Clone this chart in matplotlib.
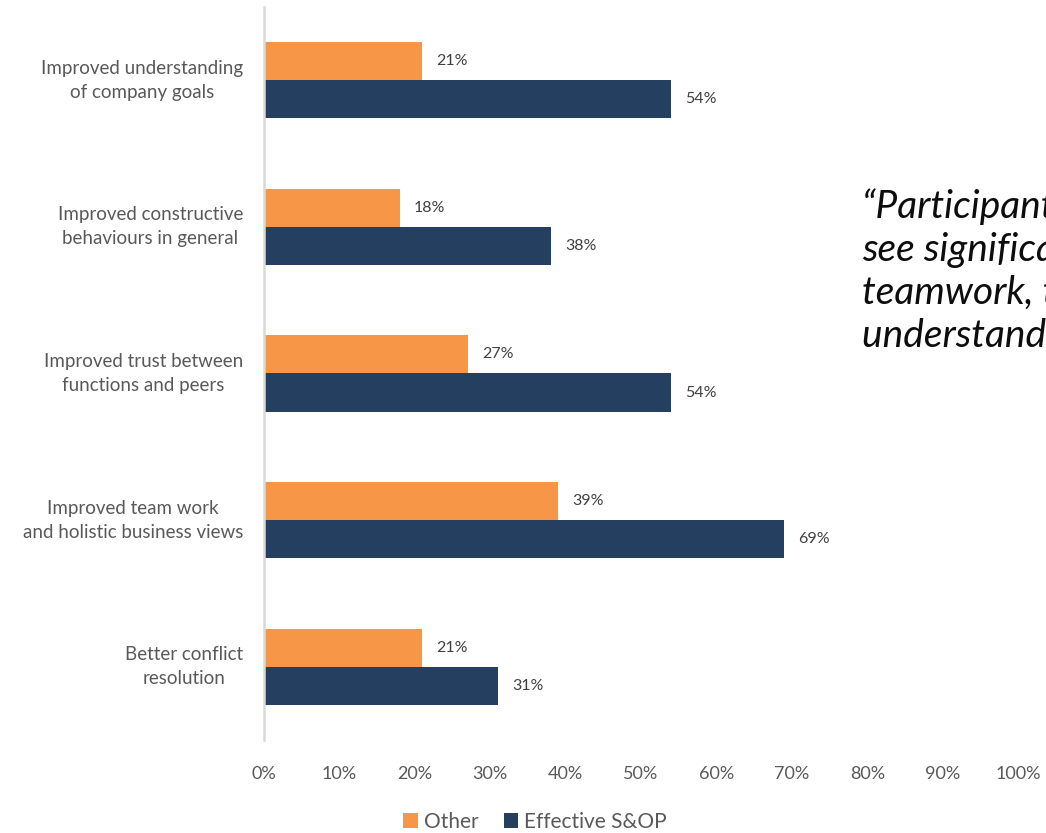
import matplotlib
matplotlib.use("Agg")
import matplotlib.pyplot as plt
from matplotlib.patches import Patch
import numpy as np

plt.rcParams['font.family'] = ['Lato', 'DejaVu Sans']

categories = [
    "Improved understanding\nof company goals",
    "Improved constructive\nbehaviours in general",
    "Improved trust between\nfunctions and peers",
    "Improved team work\nand holistic business views",
    "Better conflict\nresolution",
]
other = [21, 18, 27, 39, 21]
effective = [54, 38, 54, 69, 31]
xticks = [0, 10, 20, 30, 40, 50, 60, 70, 80, 90, 100]
series_names = ["Other", "Effective S&OP"]

ORANGE = "#f79646"
NAVY = "#243f60"
GREY_TXT = "#595959"
LABEL_TXT = "#404040"

W, H = 1046, 833
fig = plt.figure(figsize=(W / 100, H / 100), dpi=100)
ax = fig.add_axes([264 / W, (H - 740) / H, (1018 - 264) / W, (740 - 7) / H])

y = np.arange(len(categories))
bh = 0.26
ax.barh(y - bh / 2, other, height=bh, color=ORANGE)
ax.barh(y + bh / 2, effective, height=bh, color=NAVY)

for yi, v in zip(y - bh / 2, other):
    ax.text(v + 1.9, yi, f"{v}%", va="center", ha="left", fontsize=11.5, color=LABEL_TXT)
for yi, v in zip(y + bh / 2, effective):
    ax.text(v + 1.9, yi, f"{v}%", va="center", ha="left", fontsize=11.5, color=LABEL_TXT)

ax.set_xlim(0, 100)
ax.set_ylim(len(categories) - 0.5, -0.5)
ax.set_yticks(y)
ax.set_yticklabels([])
ax.tick_params(axis="y", length=0)
ax.set_xticks(xticks)
ax.set_xticklabels([f"{t}%" for t in xticks], fontsize=13, color=GREY_TXT)
ax.tick_params(axis="x", length=0, pad=19)

for s in ["top", "right", "bottom"]:
    ax.spines[s].set_visible(False)
ax.spines["left"].set_color("#d9d9d9")
ax.spines["left"].set_linewidth(1.8)

# category labels: centred lines, block ending just left of the axis
trans = ax.get_yaxis_transform()
for yi, c in zip(y, categories):
    ax.text(-21 / 754, yi, c, transform=trans, ha="right", va="center",
            fontsize=13.5, color=GREY_TXT, linespacing=1.5, multialignment="center")

handles = [Patch(facecolor=ORANGE), Patch(facecolor=NAVY)]
fig.legend(handles, series_names, loc="center", bbox_to_anchor=(535 / W, 1 - 822 / H),
           ncol=2, frameon=False, fontsize=15, handlelength=0.7, handleheight=0.7,
           handletextpad=0.3, columnspacing=1.2, labelcolor=GREY_TXT)

quote = ("\u201cParticipants with effective S&OP\n"
         "see significantly improved\n"
         "teamwork, trust and shared\n"
         "understanding of goals\u201d")
fig.text(862 / W, 1 - 188 / H, quote, ha="left", va="top", fontsize=28,
         style="italic", color="#0d0d0d", linespacing=1.24)

fig.savefig("out.png", dpi=100)
